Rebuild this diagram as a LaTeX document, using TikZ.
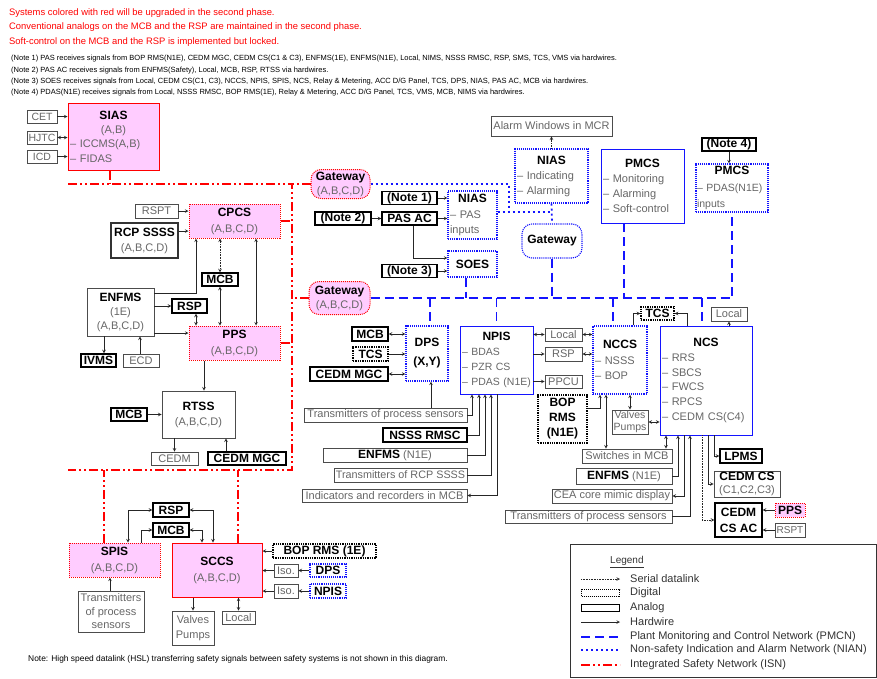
\documentclass[tikz,border=0pt]{standalone}
\usepackage{fontspec}
\setmainfont{Liberation Sans}
\usetikzlibrary{positioning, arrows}
\definecolor{isnred}{HTML}{FF0000}
\definecolor{netblue}{HTML}{1414FF}
\definecolor{safepink}{HTML}{FFCCFF}
\definecolor{txtgray}{HTML}{666666}
\definecolor{boxgray}{HTML}{4C4C4C}
\newcommand{\fsz}[2]{\fontsize{#1}{#2}\selectfont}
\newcommand{\hd}[1]{\makebox[\linewidth]{\color{black}\fsz{12}{14}\bfseries #1}}
\newcommand{\sd}[1]{\makebox[\linewidth]{#1}}
\newcommand{\bl}[1]{{\color{black}\fsz{12}{14}\bfseries #1}}
\tikzset{>=stealth,
	every node/.style={inner sep=1pt, text=txtgray, font=\fsz{11}{15}},
	hdtext/.style={anchor=west, text=isnred, font=\fsz{9.4}{11}},
	notetext/.style={anchor=west, text=black, font=\fsz{7.5}{9}},
	anbox/.style={draw=boxgray, line width=0.8pt},
	hwbox/.style={draw=black, line width=1.3pt, text=black, font=\fsz{12}{14}\bfseries},
	digbox/.style={hwbox, densely dotted},
	pmbox/.style={draw=netblue, line width=0.8pt},
	pmdbox/.style={draw=netblue, line width=1.1pt, densely dotted},
	safebox/.style={draw=isnred, fill=safepink, line width=1pt},
	safedbox/.style={safebox, densely dotted},
	gate/.style={rounded corners=10pt},
	multi/.style={align=left, inner xsep=2pt},
	hw/.style={draw=black!85, line width=0.6pt, ->},
	hwb/.style={hw, <->},
	serial/.style={hw, densely dotted},
	pmcn/.style={draw=netblue, line width=1.8pt, dash pattern=on 9pt off 5pt},
	nian/.style={draw=netblue, line width=1.8pt, dash pattern=on 2pt off 3pt},
	isn/.style={draw=isnred, line width=1.8pt, dash pattern=on 9pt off 3pt on 2pt off 3pt on 2pt off 3pt}}

\begin{document}
\begin{tikzpicture}[x=1pt, y=-1pt]
\useasboundingbox (0,0) rectangle (877,678);

% header and notes
\node[hdtext] (hdA) at (8,13) {Systems colored with red will be upgraded in the second phase.};
\node[hdtext] (hdB) at (8,27.5) {Conventional analogs on the MCB and the RSP are maintained in the second phase.};
\node[hdtext] (hdC) at (8,42) {Soft-control on the MCB and the RSP is implemented but locked.};
\node[notetext] (ntA) at (10,59) {(Note 1) PAS receives signals from BOP RMS(N1E), CEDM MGC, CEDM CS(C1 \& C3), ENFMS(1E), ENFMS(N1E), Local, NIMS, NSSS RMSC, RSP, SMS, TCS, VMS via hardwires.};
\node[notetext] (ntB) at (10,70.5) {(Note 2) PAS AC receives signals from ENFMS(Safety), Local, MCB, RSP, RTSS via hardwires.};
\node[notetext] (ntC) at (10,82) {(Note 3) SOES receives signals from Local, CEDM CS(C1, C3), NCCS, NPIS, SPIS, NCS, Relay \& Metering, ACC D/G Panel, TCS, DPS, NIAS, PAS AC, MCB via hardwires.};
\node[notetext] (ntD) at (10,93) {(Note 4) PDAS(N1E) receives signals from Local, NSSS RMSC, BOP RMS(1E), Relay \& Metering, ACC D/G Panel, TCS, VMS, MCB, NIMS via hardwires.};

% safety side
\node[anbox, minimum width=30, minimum height=13, font=\fsz{10.5}{12}] (cet) at (42,116.5) {CET};
\node[anbox, minimum width=30, minimum height=13, font=\fsz{10.5}{12}] (hjtc) at (42,137.5) {HJTC};
\node[anbox, minimum width=30, minimum height=13, font=\fsz{10.5}{12}] (icd) at (42,156.5) {ICD};
\node[safebox, multi, minimum width=91, minimum height=67, text width=87, font=\fsz{11}{14.3}] (sias) at (113.5,136.5) {\hd{SIAS}\\\sd{(A,B)}\\-- ICCMS(A,B)\\-- FIDAS};

\node[anbox, minimum width=43, minimum height=14] (rsptA) at (156.5,211) {RSPT};
\node[safedbox, minimum width=91, minimum height=34, align=center, font=\fsz{11}{16}] (cpcs) at (234.5,221) {\bl{CPCS}\\(A,B,C,D)};
\node[anbox, draw=black!80, line width=1.1pt, minimum width=67, minimum height=35, align=center, font=\fsz{11}{15}] (rcp) at (144.5,240.5) {\bl{RCP SSSS}\\(A,B,C,D)};
\node[hwbox, minimum width=36, minimum height=13] (mcbA) at (220,279.5) {MCB};
\node[anbox, minimum width=67, minimum height=48, align=center, font=\fsz{11}{14}] (enfmsA) at (120.5,312) {\bl{ENFMS}\\(1E)\\(A,B,C,D)};
\node[hwbox, minimum width=35, minimum height=14] (rspA) at (189.5,306) {RSP};
\node[safedbox, minimum width=91, minimum height=34, align=center, font=\fsz{11}{16}] (pps) at (234.5,343) {\bl{PPS}\\(A,B,C,D)};
\node[hwbox, minimum width=35, minimum height=13] (ivms) at (98.5,360.5) {IVMS};
\node[anbox, minimum width=36, minimum height=13] (ecd) at (141,360.5) {ECD};
\node[anbox, minimum width=73, minimum height=47, align=center, font=\fsz{11}{15}] (rtss) at (198.5,414.5) {\bl{RTSS}\\(A,B,C,D)};
\node[hwbox, minimum width=36, minimum height=13] (mcbB) at (129,414.5) {MCB};
\node[anbox, minimum width=47, minimum height=13] (cedmA) at (174.5,458.5) {CEDM};
\node[hwbox, minimum width=78, minimum height=13] (mgcA) at (247,458.5) {CEDM MGC};

% gateways and NIAN
\node[safedbox, gate, minimum width=59, minimum height=29, align=center, font=\fsz{11}{14}] (gwA) at (340.5,184) {\bl{Gateway}\\(A,B,C,D)};
\node[safedbox, gate, minimum width=61, minimum height=33, align=center, font=\fsz{11}{14}] (gwB) at (339.5,298) {\bl{Gateway}\\(A,B,C,D)};
\node[hwbox, minimum width=55, minimum height=12] (noteA) at (409.5,198) {(Note 1)};
\node[hwbox, minimum width=56, minimum height=13] (noteB) at (343,218.5) {(Note 2)};
\node[hwbox, minimum width=55, minimum height=13] (pasac) at (409.5,218.5) {PAS AC};
\node[hwbox, minimum width=55, minimum height=12] (noteC) at (409.5,271) {(Note 3)};
\node[pmdbox, multi, minimum width=49, minimum height=48, text width=45, font=\fsz{11}{15.5}] (niasA) at (472.5,215) {\hd{NIAS}\\-- PAS\\inputs};
\node[pmdbox, minimum width=49, minimum height=26] (soes) at (472.5,264) {\bl{SOES}};
\node[anbox, minimum width=121, minimum height=20] (alarm) at (551.5,126) {Alarm Windows in MCR};
\node[pmdbox, multi, minimum width=73, minimum height=54, text width=69, font=\fsz{11}{15}] (niasB) at (551.5,176) {\hd{NIAS}\\-- Indicating\\-- Alarming};
\node[pmdbox, gate, minimum width=60, minimum height=34] (gwC) at (552,241) {\bl{Gateway}};
\node[pmbox, multi, minimum width=83, minimum height=74, text width=79, font=\fsz{11}{14.8}] (pmcs) at (642.5,186) {\hd{PMCS}\\-- Monitoring\\-- Alarming\\-- Soft-control};
\node[hwbox, minimum width=54, minimum height=13] (noteD) at (729,144.5) {(Note 4)};
\node[pmdbox, multi, inner xsep=1pt, minimum width=72, minimum height=48, text width=70, font=\fsz{10.5}{16.5}] (pmcsB) at (732,188) {\hd{PMCS}\\-- PDAS(N1E)\\inputs};

% non-safety side
\node[pmdbox, minimum width=42, minimum height=55, align=center, font=\fsz{11}{15}] (dps) at (427,353.5) {\bl{DPS}\\[4pt]\bl{(X,Y)}};
\node[hwbox, minimum width=36, minimum height=14] (mcbC) at (370,334) {MCB};
\node[digbox, minimum width=35, minimum height=14] (tcsA) at (370.5,354) {TCS};
\node[hwbox, minimum width=78, minimum height=14] (mgcB) at (349,374) {CEDM MGC};
\node[anbox, minimum width=163, minimum height=14] (transA) at (385.5,415) {Transmitters of process sensors};
\node[pmbox, multi, minimum width=73, minimum height=68, text width=69, font=\fsz{10.5}{15}] (npis) at (496.5,360) {\hd{NPIS}\\-- BDAS\\-- PZR CS\\-- PDAS (N1E)};
\node[hwbox, minimum width=84, minimum height=14] (nsss) at (425,435) {NSSS RMSC};
\node[anbox, minimum width=144, minimum height=14] (enfmsB) at (395,455) {\bl{ENFMS} (N1E)};
\node[anbox, minimum width=133, minimum height=14, font=\fsz{10.8}{13}] (transR) at (400.5,475) {Transmitters of RCP SSSS};
\node[anbox, minimum width=165, minimum height=13] (indic) at (384.5,495.5) {Indicators and recorders in MCB};
\node[anbox, minimum width=37, minimum height=13] (localA) at (563.5,334.5) {Local};
\node[anbox, minimum width=37, minimum height=14] (rspB) at (563.5,354) {RSP};
\node[anbox, minimum width=37, minimum height=13] (ppcu) at (563.5,381.5) {PPCU};
\node[digbox, minimum width=49, minimum height=48, align=center, font=\fsz{12}{15}\bfseries] (boprms) at (562.5,419) {BOP\\RMS\\(N1E)};
\node[pmdbox, multi, minimum width=54, minimum height=68, text width=50, font=\fsz{11}{15.5}] (nccs) at (620,360) {\hd{NCCS}\\-- NSSS\\-- BOP};
\node[digbox, minimum width=33, minimum height=13] (tcsB) at (657.5,313.5) {TCS};
\node[anbox, minimum width=36, minimum height=14] (localB) at (729,314) {Local};
\node[pmbox, multi, minimum width=92, minimum height=109, text width=88, font=\fsz{11}{14.8}] (ncs) at (706,380.5) {\hd{NCS}\\-- RRS\\-- SBCS\\-- FWCS\\-- RPCS\\-- CEDM CS(C4)};
\node[anbox, minimum width=36, minimum height=24, align=center, font=\fsz{10.5}{12}] (valvesA) at (630,422) {Valves\\Pumps};
\node[anbox, minimum width=90, minimum height=14] (switch) at (627,456) {Switches in MCB};
\node[anbox, minimum width=96, minimum height=16] (enfmsC) at (624,476) {\bl{ENFMS} (N1E)};
\node[anbox, minimum width=120, minimum height=14] (cea) at (612,496) {CEA core mimic display};
\node[anbox, minimum width=167, minimum height=13] (transB) at (588.5,516.5) {Transmitters of process sensors};
\node[hwbox, minimum width=42, minimum height=14] (lpms) at (741,456) {LPMS};
\node[anbox, minimum width=66, minimum height=26, align=center, font=\fsz{11}{13}] (cedmcs) at (747,484) {\bl{CEDM CS}\\(C1,C2,C3)};
\node[hwbox, minimum width=47, minimum height=34, align=center, font=\fsz{12}{16}\bfseries] (cedmac) at (738.5,520) {CEDM\\CS AC};
\node[safedbox, minimum width=30, minimum height=14] (ppsB) at (790,510) {\bl{PPS}};
\node[anbox, minimum width=30, minimum height=14, font=\fsz{10}{12}] (rsptB) at (790,530) {RSPT};

% SPIS and SCCS
\node[hwbox, minimum width=36, minimum height=14] (rspC) at (171,510) {RSP};
\node[hwbox, minimum width=36, minimum height=14] (mcbD) at (171,530) {MCB};
\node[safedbox, minimum width=91, minimum height=34, align=center, font=\fsz{11}{16}] (spis) at (114.5,560) {\bl{SPIS}\\(A,B,C,D)};
\node[safebox, minimum width=90, minimum height=54, align=center, font=\fsz{11}{16}] (sccs) at (217,570) {\bl{SCCS}\\(A,B,C,D)};
\node[digbox, minimum width=103, minimum height=14] (bopB) at (324.5,551) {BOP RMS (1E)};
\node[anbox, minimum width=24, minimum height=13] (isoA) at (286,570.5) {Iso.};
\node[pmdbox, minimum width=36, minimum height=13] (dpsB) at (328,570.5) {\bl{DPS}};
\node[anbox, minimum width=24, minimum height=14] (isoB) at (286,591) {Iso.};
\node[pmdbox, minimum width=36, minimum height=14] (npisB) at (328,591) {\bl{NPIS}};
\node[anbox, minimum width=66, minimum height=41, align=center, font=\fsz{11}{13.5}] (transS) at (111,611.5) {Transmitters\\of process\\sensors};
\node[anbox, minimum width=42, minimum height=34, align=center, font=\fsz{11}{15}] (valvesB) at (193,628) {Valves\\Pumps};
\node[anbox, minimum width=33, minimum height=13] (localC) at (238.5,617.5) {Local};

% integrated safety network
\coordinate (isnTL) at (68,184);
\coordinate (isnTR) at (292,184);
\coordinate (isnBR) at (292,470);
\coordinate (isnBL) at (68,470);
\draw[isn] (isnTL) -- (isnTR) -- (isnBR) -- (isnBL);
\draw[isn] (sias.south -| 110,0) -- (isnTL -| 110,0);
\draw[isn] (cpcs.east) -- (cpcs.east -| isnTR);
\draw[isn] (pps.east) -- (pps.east -| isnTR);
\draw[isn] (gwA.west) -- (gwA.west -| isnTR);
\draw[isn] (gwB.west) -- (gwB.west -| isnTR);
\draw[isn] (spis.north -| 104,0) -- (isnBL -| 104,0);
\draw[isn] (sccs.north -| 238,0) -- (isnBL -| 238,0);

% indication and alarm network
\coordinate (nianJ) at (509,212);
\draw[nian] (gwA.east) -| (nianJ);
\draw[nian] (niasA.east |- nianJ) -- (niasB.south |- nianJ);
\draw[nian] (niasB.south) -- (gwC.north);

% plant monitoring and control network
\draw[pmcn] (gwB.east) -| (pmcsB.south);
\draw[pmcn] (soes.south -| 466,0) -- (gwB.east -| 466,0);
\draw[pmcn] (gwC.south) -- (gwC.south |- gwB.east);
\draw[pmcn] (pmcs.south -| 624,0) -- (gwB.east -| 624,0);
\draw[pmcn] (gwB.east -| 430,0) -- (dps.north -| 430,0);
\draw[pmcn] (gwB.east -| npis.north) -- (npis.north);
\draw[pmcn] (gwB.east -| 613,0) -- (nccs.north -| 613,0);
\draw[pmcn] (gwB.east -| 702,0) -- (ncs.north -| 702,0);

% hardwires, safety side
\draw[hw] (cet.east) -- (sias.west |- cet.east);
\draw[hwb] (sias.west |- hjtc.east) -- (hjtc.east);
\draw[hw] (icd.east) -- (sias.west |- icd.east);
\draw[hw] (rsptA.east) -- (cpcs.west |- rsptA.east);
\draw[hw] (rcp.east |- 0,231) -- (cpcs.west |- 0,231);
\draw[serial, <->] (cpcs.south -| mcbA.north) -- (mcbA.north);
\draw[hwb] (mcbA.south) -- (pps.north -| mcbA.south);
\draw[hwb] (cpcs.south -| 256,0) -- (pps.north -| 256,0);
\draw[hw] (enfmsA.east |- 0,293) -| (cpcs.south -| 196,0);
\draw[hw] (enfmsA.east |- rspA.west) -- (rspA.west);
\draw[hwb] (rspA.south -| 196,0) -- (pps.north -| 196,0);
\draw[hw] (enfmsA.east |- 0,333) -- (pps.west |- 0,333);
\draw[hw] (enfmsA.south -| 104,0) -- (ivms.north -| 104,0);
\draw[hw] (ecd.north -| 140,0) -- (enfmsA.south -| 140,0);
\draw[hw] (pps.south -| 204,0) -- (rtss.north -| 204,0);
\draw[hw] (mcbB.east) -- (rtss.west |- mcbB.east);
\draw[hw] (rtss.south -| cedmA.north) -- (cedmA.north);
\draw[hw] (mgcA.north -| 226,0) -- (rtss.south -| 226,0);

% hardwires, gateways and NIAS
\draw[hw] (noteA.east) -- (niasA.west |- noteA.east);
\draw[hw] (noteB.east) -- (pasac.west);
\draw[hw] (pasac.east) -- (niasA.west |- pasac.east);
\draw[hw] (pasac.south -| 413,0) |- (soes.west |- 0,258);
\draw[hw] (noteC.east) -- (soes.west |- noteC.east);
\draw[serial] (niasB.north) -- (alarm.south);
\draw[hw] (noteD.south) -- (pmcsB.north -| noteD.south);

% hardwires, DPS and NPIS
\draw[hwb] (mcbC.east) -- (dps.west |- mcbC.east);
\draw[hw] (tcsA.east) -- (dps.west |- tcsA.east);
\draw[hwb] (mgcB.east) -- (dps.west |- mgcB.east);
\draw[hw] (transA.north -| 431,0) -- (dps.south -| 431,0);
\draw[hw] (transA.east) -| (npis.south -| 472,0);
\draw[hw] (nsss.east) -| (npis.south -| 479,0);
\draw[hw] (enfmsB.east) -| (npis.south -| 485,0);
\draw[hw] (transR.east) -| (npis.south -| 491,0);
\draw[hw] (npis.south -| 497,0) |- (indic.east);
\draw[hwb] (npis.east |- localA.west) -- (localA.west);
\draw[hwb] (localA.east) -- (nccs.west |- localA.east);
\draw[hw] (npis.east |- rspB.west) -- (rspB.west);
\draw[hwb] (rspB.east) -- (nccs.west |- rspB.east);
\draw[hw] (npis.east |- ppcu.west) -- (ppcu.west);

% hardwires, NCCS and NCS
\draw[hw] (boprms.east |- 0,408) -| (nccs.south -| 600,0);
\draw[hw] (nccs.north -| 633,0) |- (tcsB.west);
\draw[hw] (ncs.north -| 687,0) |- (tcsB.east);
\draw[hw] (ncs.north -| localB.south) -- (localB.south);
\draw[hwb] (nccs.south -| valvesA.north) -- (valvesA.north);
\draw[hwb] (valvesA.east) -- (ncs.west |- valvesA.east);
\draw[hwb] (nccs.south -| 606,0) -- (switch.north -| 606,0);
\draw[hwb] (ncs.south -| 666,0) -- (switch.north -| 666,0);
\draw[hw] (enfmsC.east) -| (ncs.south -| 678,0);
\draw[hw] (ncs.south -| 684,0) |- (cea.east);
\draw[hw] (transB.east) -| (ncs.south -| 690,0);
\draw[serial] (ncs.south -| 702,0) |- (cedmac.west);
\draw[hw] (ncs.south -| 708,0) |- (cedmcs.west);
\draw[hw] (ncs.south -| 714,0) |- (lpms.west);
\draw[hw] (ppsB.west) -- (cedmac.east |- ppsB.west);
\draw[hw] (rsptB.west) -- (cedmac.east |- rsptB.west);

% hardwires, SPIS and SCCS
\draw[hwb] (spis.north -| 128,0) |- (rspC.west);
\draw[hw] (spis.north -| 141,0) |- (mcbD.west);
\draw[hwb] (rspC.east) -| (sccs.north -| 213,0);
\draw[hwb] (mcbD.east) -| (sccs.north -| 202,0);
\draw[hw] (bopB.west) -- (sccs.east |- bopB.west);
\draw[hw] (isoA.west) -- (sccs.east |- isoA.west);
\draw[hw] (dpsB.west) -- (isoA.east);
\draw[hw] (isoB.west) -- (sccs.east |- isoB.west);
\draw[hw] (npisB.west) -- (isoB.east);
\draw[hw] (transS.north -| 110,0) -- (spis.south -| 110,0);
\draw[hw] (sccs.south -| valvesB.north) -- (valvesB.north);
\draw[hwb] (sccs.south -| localC.north) -- (localC.north);

\node[anchor=west, text=black, font=\fsz{8.4}{10}] (hsl) at (27,659) {Note: High speed datalink (HSL) transferring safety signals between safety systems is not shown in this diagram.};

% legend
\node[draw=black!80, line width=0.8pt, minimum width=306, minimum height=133] (lgbox) at (723,610.5) {};
\node[anchor=west, text=black!80, font=\fsz{10}{12}] (lghd) at (609,562) {\underline{Legend}};
\foreach \y/\t [count=\i] in {579/Serial datalink, 593/Digital, 608/Analog, 622/Hardwire,
	637/Plant Monitoring and Control Network (PMCN), 650/Non-safety Indication and Alarm Network (NIAN),
	665/Integrated Safety Network (ISN)}
	\node[anchor=west, text=black!80] (lg\i) at (629,\y) {\t};
\draw[serial] ([xshift=-48]lg1.west) -- ([xshift=-9]lg1.west);
\node[draw=black, line width=1pt, densely dotted, minimum width=38, minimum height=7] (lgdig) at ([xshift=-28.5]lg2.west) {};
\node[draw=black, line width=1pt, minimum width=38, minimum height=7] (lgana) at ([xshift=-28.5]lg3.west) {};
\draw[hw] ([xshift=-48]lg4.west) -- ([xshift=-9]lg4.west);
\draw[pmcn] ([xshift=-48]lg5.west) -- ([xshift=-9]lg5.west);
\draw[nian] ([xshift=-48]lg6.west) -- ([xshift=-9]lg6.west);
\draw[isn] ([xshift=-48]lg7.west) -- ([xshift=-9]lg7.west);
\end{tikzpicture}
\end{document}
